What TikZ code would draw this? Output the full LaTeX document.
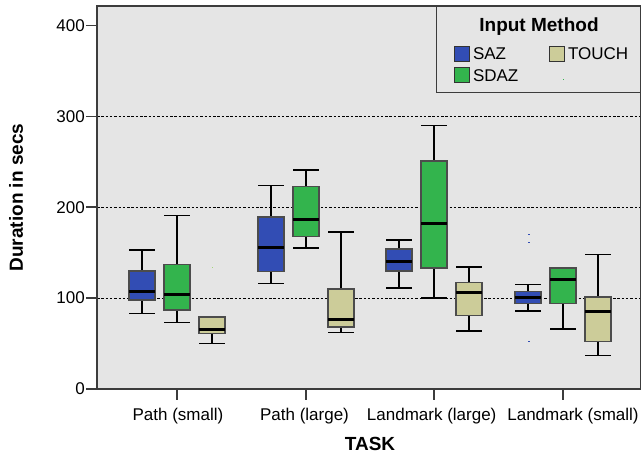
\documentclass[tikz,border=0pt]{standalone}
\usepackage{fontspec}
\setmainfont{Liberation Sans}
\usepackage{xcolor}
\definecolor{sazblue}{RGB}{50,77,180}
\definecolor{sdazgreen}{RGB}{51,180,77}
\definecolor{touchtan}{RGB}{204,204,153}
\definecolor{panelgray}{RGB}{229,229,229}
\definecolor{framegray}{RGB}{60,60,60}
\usetikzlibrary{positioning}

\begin{document}
\begin{tikzpicture}[x=1pt, y=1pt, line cap=butt, inner sep=0pt]
   \tikzstyle{every node}=[font=\fontsize{17}{20}\selectfont]
   \tikzstyle{title}=[font=\fontsize{19}{22}\selectfont\bfseries]
   \tikzstyle{frame}=[draw=framegray, line width=1.4pt]
   \tikzstyle{gridline}=[dash pattern=on 2.5pt off 1.8pt, line width=0.9pt]
   \tikzstyle{whisker}=[line width=1.6pt]
   \tikzstyle{boxbody}=[draw=black!70, line width=1.4pt]
   \tikzstyle{median}=[line width=3pt]
   \tikzstyle{swatch}=[draw=black!80, line width=1pt, minimum width=15pt, minimum height=15pt]

   \useasboundingbox (0,0) rectangle (642,458);
   \fill[panelgray] (97,69) rectangle (640.5,452);

   % values in secs, one unit = 0.909pt
   \begin{scope}[yshift=69pt, y=0.909pt]
      \foreach \v in {100,200,300}
         \draw[gridline] (97,\v) -- (640.5,\v);
      \foreach \v in {0,100,...,400}
      {
         \draw[frame] (86,\v) -- (97,\v);
         \node[anchor=east] (tick\v) at (85,\v) {\v};
      }
      \foreach \x/\c/\wl/\qa/\md/\qb/\wt in {
         142/sazblue/83/98/107/130/153,
         177/sdazgreen/73/87/104/137/191,
         212/touchtan/50/61/66/79/79,
         271/sazblue/116/129/156/189/224,
         306/sdazgreen/155/168/186/223/241,
         341/touchtan/62/68/77/110/173,
         399/sazblue/111/130/140/154/164,
         434/sdazgreen/100/133/182/251/290,
         469/touchtan/64/81/106/117/134,
         528/sazblue/86/94/101/107/115,
         563/sdazgreen/66/94/121/133/133,
         598/touchtan/37/52/85/101/148}
      {
         \draw[whisker] (\x,\wl) -- (\x,\qa) (\x,\qb) -- (\x,\wt)
            (\x-13,\wl) -- (\x+13,\wl) (\x-13,\wt) -- (\x+13,\wt);
         \filldraw[boxbody, fill=\c] (\x-13,\qa) rectangle (\x+13,\qb);
         \draw[median] (\x-13,\md) -- (\x+13,\md);
      }
      % outliers
      \fill[touchtan!80!green] (211.5,133) rectangle +(1.2,1.2);
      \foreach \v in {170,161,52}
         \fill[sazblue] (528,\v) rectangle +(2,1);
   \end{scope}

   \draw[frame] (97,69) rectangle (640.5,452);
   \foreach \x in {177,306,434,563}
      \draw[frame] (\x,69) -- (\x,58);

   \node[anchor=base] (cat1) at (178,38) {Path (small)};
   \node[anchor=base] (cat2) at (304.5,38) {Path (large)};
   \node[anchor=base] (cat3) at (431.7,38) {Landmark (large)};
   \node[anchor=base] (cat4) at (573,38) {Landmark (small)};
   \node[title, anchor=base] (task) at (370,8) {TASK};
   \node[title, rotate=90, anchor=base] (duration) at (23,260.5) {Duration in secs};

   % legend
   \filldraw[fill=panelgray, draw=framegray, line width=1.4pt] (436.7,365.3) rectangle (640.5,452);
   \node[title, anchor=base] (legtitle) at (539,426.3) {Input Method};
   \node[swatch, fill=sazblue, anchor=north west] (sazbox) at (454.3,412.3) {};
   \node[right=2.5pt of sazbox] (saz) {SAZ};
   \node[swatch, fill=sdazgreen, below=5.7pt of sazbox] (sdazbox) {};
   \node[right=2.5pt of sdazbox] (sdaz) {SDAZ};
   \node[swatch, fill=touchtan, right=79pt of sazbox] (touchbox) {};
   \node[right=2.5pt of touchbox] (touch) {TOUCH};
   \fill[sdazgreen] (562.5,377.5) rectangle +(1,1);
\end{tikzpicture}
\end{document}
